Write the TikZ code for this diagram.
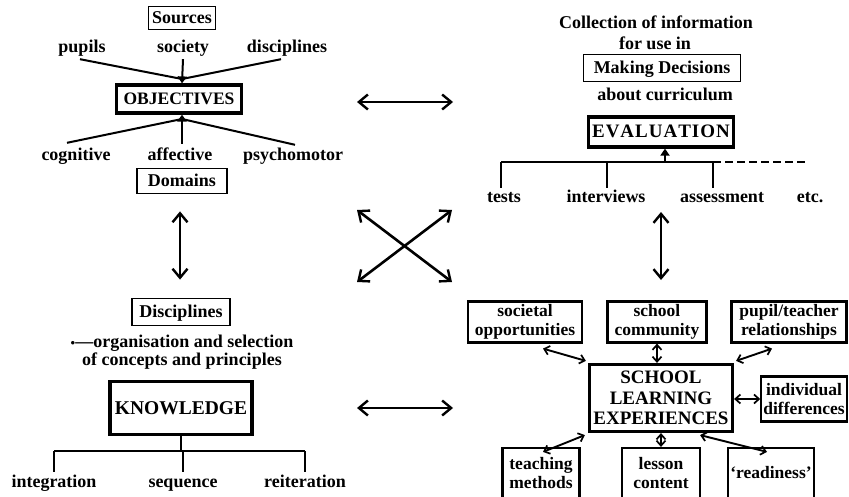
\documentclass[tikz,border=0pt]{standalone}
\usepackage{fontspec}
\setmainfont{Liberation Serif}
\usetikzlibrary{arrows.meta,calc}

\begin{document}
\begin{tikzpicture}[x=1pt,y=-1pt,
  every node/.style={inner sep=0pt, align=center, font=\bfseries\fontsize{18}{18.5}\selectfont},
  lbl/.style={text height=13pt, text depth=2pt},
  word/.style={text height=12pt, text depth=4pt, yshift=-2pt},
  thinbox/.style={draw, line width=1.8pt, inner sep=2pt},
  thickbox/.style={draw, line width=3.2pt, inner sep=3pt},
  midbox/.style={draw, line width=2.2pt, inner sep=2pt, font=\bfseries\fontsize{17.5}{19}\selectfont},
  ln/.style={line width=2.6pt},
  thinln/.style={line width=2pt},
  barb/.tip={Straight Barb[length=9pt,width=15pt,line width=2.4pt]},
  sbarb/.tip={Straight Barb[length=5pt,width=9pt,line width=1.7pt]},
  dbl/.style={ln, barb-barb},
  sdbl/.style={line width=1.9pt, sbarb-sbarb},
  tri/.tip={Triangle[length=7pt,width=9pt]}
]
\useasboundingbox (0,0) rectangle (849,497);

% ---------- Objectives quadrant ----------
\node[thinbox, lbl, minimum width=67pt, minimum height=23pt] (sources) at (182,18) {Sources};
\node[word] (pupils) at (82,47) {pupils};
\node[word] (society) at (183,47) {society};
\node[word] (discs) at (287,47) {disciplines};
\node[thickbox, lbl, minimum width=125pt, minimum height=28pt, font=\bfseries\fontsize{17.5}{17.5}\selectfont] (obj) at (179,99) {OBJECTIVES};
\coordinate (objin) at (182,79);
\draw[thinln] ([xshift=-2pt,yshift=-2pt]pupils.south) -- (objin);
\draw[thinln] ([xshift=-6pt,yshift=-2pt]discs.south) -- (objin);
\draw[thinln, -tri] ([yshift=-2pt]society.south) -- (obj.north -| objin);

\node[word] (cog) at (76,155) {cognitive};
\node[word] (aff) at (180,155) {affective};
\node[word] (psy) at (293,155) {psychomotor};
\coordinate (objout) at (182,119);
\draw[thinln] ([xshift=-9pt,yshift=6pt]cog.north) -- (objout);
\draw[thinln] ([xshift=2pt,yshift=4pt]psy.north) -- (objout);
\draw[thinln, -tri] ([xshift=2pt,yshift=5pt]aff.north) -- (obj.south -| objout);
\node[thinbox, lbl, minimum width=90pt, minimum height=25pt] (domains) at (182,181) {Domains};

% ---------- Knowledge quadrant ----------
\node[thinbox, lbl, minimum width=98pt, minimum height=27pt] (disc) at (181,312) {Disciplines};
\node (org) at (182,352) {{\fontsize{13}{13}\selectfont •}---organisation and selection\\[-1pt]of concepts and principles};
\node[thickbox, minimum width=142pt, minimum height=53pt, font=\bfseries\fontsize{19.5}{20}\selectfont] (know) at (181,408) {KNOWLEDGE};
\draw[dbl] ([yshift=-17pt]domains.south -| 180,0) -- ([yshift=18pt]disc.north -| 180,0);

\coordinate (kj) at (181,451);
\node[word] (integ) at (54,481) {integration};
\node[word] (seq) at (183,481) {sequence};
\node[word] (reit) at (305,481) {reiteration};
\draw[thinln] (know.south) -- (kj);
\draw[thinln] (integ.north |- kj) -- (reit.north |- kj);
\draw[thinln] (integ.north |- kj) -- ([yshift=3pt]integ.north);
\draw[thinln] (seq.north |- kj) -- ([yshift=3pt]seq.north);
\draw[thinln] (reit.north |- kj) -- ([yshift=3pt]reit.north);

% ---------- Evaluation quadrant ----------
\node[word] (coll) at (656,23) {Collection of information};
\node[word] (foruse) at (655,44) {for use in};
\node[thinbox, lbl, minimum width=157pt, minimum height=27pt] (making) at (662,68) {Making Decisions};
\node[word] (about) at (665,95) {about curriculum};
\node[thickbox, lbl, minimum width=145pt, minimum height=30pt, font=\bfseries\fontsize{19}{19}\selectfont] (eval) at (661,132) {E\kern1pt V\kern1pt A\kern1pt L\kern1pt U\kern1pt A\kern1pt T\kern1pt I\kern1pt O\kern1pt N};

\coordinate (ej) at (665,162);
\node[word] (tests) at (504,197) {tests};
\node[word] (interv) at (606,197) {interviews};
\node[word] (assess) at (722,197) {assessment};
\node[word] (etc) at (810,197) {etc.};
\coordinate (e1) at (501,162);
\coordinate (e2) at (607,162);
\coordinate (e3) at (713,162);
\coordinate (e4) at (807,162);
\draw[thinln, -tri] (ej) -- (eval.south -| ej);
\draw[thinln] (e1) -- (e3);
\draw[thinln, dashed, dash pattern=on 8pt off 4pt] (e3) -- (e4);
\draw[thinln] (e1) -- ([yshift=3pt]e1 |- tests.north);
\draw[thinln] (e2) -- ([yshift=3pt]e2 |- interv.north);
\draw[thinln] (e3) -- ([yshift=3pt]e3 |- assess.north);

% ---------- School learning experiences quadrant ----------
\node[midbox, minimum width=114pt, minimum height=41pt] (soc) at (525,322) {societal\\opportunities};
\node[midbox, minimum width=99pt, minimum height=41pt] (sch) at (657,322) {school\\community};
\node[midbox, minimum width=115pt, minimum height=41pt] (pt) at (789,322) {pupil/teacher\\relationships};
\node[thickbox, minimum width=143pt, minimum height=67pt, font=\bfseries\fontsize{19}{20.5}\selectfont] (sle) at (661,398) {SCHOOL\\LEARNING\\EXPERIENCES};
\node[midbox, minimum width=85pt, minimum height=45pt] (ind) at (804,399) {individual\\differences};
\node[midbox, minimum width=77pt, minimum height=50pt] (tm) at (541,473) {teaching\\methods};
\node[midbox, minimum width=78pt, minimum height=50pt] (lc) at (661,473) {lesson\\content};
\node[midbox, minimum width=78pt, minimum height=50pt] (rd) at (771,473) {`readiness'};

\draw[sdbl] ([xshift=18pt,yshift=-5pt]soc.south) -- ([xshift=-2pt,yshift=2pt]sle.north west);
\draw[sdbl] (sch.south) -- (sch.south |- sle.north);
\draw[sdbl] ([xshift=-17pt,yshift=-5pt]pt.south) -- ([xshift=2pt,yshift=2pt]sle.north east);
\draw[sdbl] (sle.east |- ind.west) -- (ind.west);
\draw[sdbl] ([xshift=2pt,yshift=-5pt]tm.north) -- ([xshift=-3pt,yshift=-2pt]sle.south west);
\draw[sdbl] (lc.north) -- (lc.north |- sle.south);
\draw[sdbl] ([xshift=-34pt,yshift=-2pt]sle.south east) -- ([xshift=-4pt,yshift=-5pt]rd.north);

% ---------- Links between the four quadrants ----------
\coordinate (ml) at (357,102);
\coordinate (mr) at (453,102);
\coordinate (xtl) at (357,210);
\coordinate (xtr) at (452,210);
\coordinate (xbl) at (357,282);
\coordinate (xbr) at (452,282);
\coordinate (bl) at (357,408);
\coordinate (br) at (453,408);
\draw[dbl] (ml) -- (mr);
\draw[dbl] (xtl) -- (xbr);
\draw[dbl] (xbl) -- (xtr);
\draw[dbl] (bl) -- (br);
\draw[dbl] (661,212) -- (661,280);
\end{tikzpicture}
\end{document}
